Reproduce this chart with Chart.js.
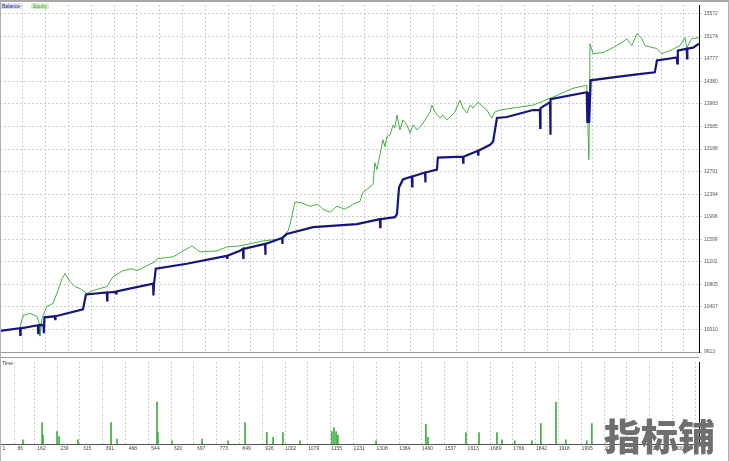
<!DOCTYPE html>
<html>
<head>
<meta charset="utf-8">
<script src="https://cdn.jsdelivr.net/npm/chart.js@4.4.1/dist/chart.umd.min.js"></script>
<style>
  body { margin: 0; background: #fff; font-family: "Liberation Sans", Arial, sans-serif; }
  #wrap { position: relative; width: 729px; height: 461px; overflow: hidden; }
  #mainChart { position: absolute; left: 0; top: 0; }
  #subChart { position: absolute; left: 0; top: 357px; }
  .tag { position: absolute; top: 3px; height: 6px; font-size: 5px; line-height: 6px; padding: 0 2px; }
  #frame { position: absolute; left: 0; top: 0; width: 727px; height: 459px; border: 1px solid #b0b0b0; border-top: 2px solid #a8a8a8; pointer-events: none; }
  #sep { position: absolute; left: 0; top: 357px; width: 699px; height: 0; border-top: 1px solid #9a9a9a; }
  #timeLbl { position: absolute; left: 2px; top: 360px; font-size: 5px; color: #333; }
  #mark { position: absolute; left: 604px; top: 408px; font-family: "Noto Sans CJK SC"; font-weight: 900; font-size: 37px; color: #6f6f6f; }
</style>
</head>
<body>
<div id="wrap">
  <canvas id="mainChart" width="729" height="357"></canvas>
  <canvas id="subChart" width="729" height="104"></canvas>
  <div class="tag" style="left:0; background:#dde0f2; color:#2a2a90;">Balance</div>
  <div class="tag" style="left:31px; background:#dcf0d6; color:#3a9a3a;">Equity</div>
  <div id="sep"></div>
  <div id="timeLbl">Time</div>
  <div id="mark">指标铺</div>
  <div id="frame"></div>
</div>
<script>
// tick labels
const xTicks = [1, 86, 162, 239, 315, 391, 468, 544, 620, 697, 773, 849, 926, 1002, 1079, 1155, 1231, 1308, 1384, 1460, 1537, 1613, 1689, 1766, 1842, 1918, 1995, 2071, 2147, 2224, 2300];
const yTicks = [9613, 10010, 10407, 10805, 11202, 11599, 11996, 12394, 12791, 13188, 13585, 13983, 14380, 14777, 15174, 15572];

// balance (trade number / value)
const balanceX = [9, 76, 77, 78, 136, 137, 138, 155, 156, 158, 193, 194, 195, 287, 297, 367, 368, 369, 398, 399, 400, 522, 523, 525, 531, 635, 769, 770, 771, 813, 823, 824, 825, 897, 898, 899, 954, 955, 956, 970, 1058, 1205, 1282, 1283, 1284, 1332, 1339, 1346, 1359, 1389, 1390, 1391, 1433, 1434, 1435, 1473, 1476, 1560, 1561, 1562, 1610, 1611, 1612, 1651, 1661, 1674, 1707, 1795, 1818, 1819, 1820, 1852, 1853, 1854, 1975, 1977, 1981, 1983, 1988, 2063, 2143, 2203, 2210, 2277, 2278, 2280, 2310, 2311, 2312, 2331, 2351];
const balanceY = [9985, 10032, 9915, 10030, 10085, 9945, 10085, 10085, 9945, 10224, 10242, 10190, 10242, 10364, 10626, 10661, 10521, 10661, 10670, 10626, 10679, 10818, 10609, 10818, 11080, 11168, 11308, 11273, 11308, 11395, 11430, 11273, 11430, 11517, 11325, 11517, 11622, 11517, 11622, 11692, 11814, 11867, 11954, 11814, 11954, 11989, 12041, 12513, 12653, 12705, 12530, 12705, 12775, 12600, 12775, 12827, 13037, 13055, 12950, 13055, 13159, 13090, 13159, 13264, 13317, 13736, 13753, 13876, 13876, 13561, 13911, 14015, 13439, 14068, 14190, 13649, 14190, 13649, 14400, 14452, 14505, 14540, 14749, 14802, 14697, 14924, 14959, 14784, 14959, 14976, 15046];

// equity
const equityX = [9, 76, 83, 86, 110, 133, 140, 143, 150, 166, 187, 203, 217, 227, 244, 260, 277, 300, 321, 367, 388, 421, 451, 468, 528, 535, 589, 635, 652, 679, 736, 769, 813, 890, 947, 974, 981, 997, 1014, 1048, 1074, 1091, 1115, 1138, 1165, 1192, 1215, 1225, 1238, 1259, 1265, 1272, 1292, 1299, 1305, 1316, 1326, 1332, 1339, 1349, 1359, 1372, 1383, 1393, 1406, 1416, 1429, 1439, 1450, 1456, 1466, 1483, 1493, 1506, 1517, 1533, 1550, 1560, 1573, 1584, 1594, 1610, 1624, 1640, 1657, 1667, 1684, 1728, 1795, 1862, 1929, 1975, 1982, 1986, 1996, 2029, 2063, 2093, 2109, 2126, 2143, 2160, 2170, 2210, 2227, 2254, 2287, 2304, 2310, 2327, 2351];
const equityY = [9985, 10032, 10207, 10259, 10294, 10242, 10120, 9893, 10207, 10417, 10469, 10696, 10906, 10993, 10853, 10766, 10731, 10644, 10696, 10766, 10941, 11046, 11080, 11046, 11203, 11255, 11290, 11430, 11482, 11377, 11395, 11465, 11482, 11570, 11605, 11744, 11867, 12251, 12251, 12181, 12216, 12129, 12076, 12181, 12129, 12216, 12268, 12426, 12478, 12565, 12950, 12827, 13352, 13229, 13404, 13439, 13614, 13561, 13788, 13526, 13701, 13614, 13474, 13614, 13526, 13579, 13666, 13753, 13841, 13963, 13841, 13736, 13788, 13701, 13753, 13841, 14050, 13911, 13823, 13963, 13911, 14015, 13946, 13876, 13736, 13841, 13876, 13911, 13963, 14103, 14260, 14312, 13002, 15046, 14871, 14889, 14976, 15064, 15134, 15011, 15221, 15134, 15011, 14959, 14871, 14924, 15011, 15151, 14976, 15134, 15151];

// lower pane
const volumeX = [86, 150, 153, 200, 207, 270, 381, 401, 535, 538, 585, 686, 773, 830, 903, 924, 957, 1014, 1121, 1128, 1135, 1141, 1269, 1436, 1443, 1570, 1614, 1674, 1691, 1734, 1791, 1821, 1872, 1905, 1975, 1992];
const volumeY = [0.5, 2.6, 1.1, 1.5, 0.9, 0.5, 2.6, 0.6, 5.1, 1.4, 0.4, 0.6, 0.4, 2.6, 1.4, 0.8, 1.4, 0.4, 1.5, 2.0, 1.5, 1.1, 0.4, 2.4, 0.8, 1.4, 1.4, 1.4, 0.5, 0.4, 0.4, 2.5, 5.1, 0.5, 0.4, 2.5];

const xMin = 9, xMax = 2351;
const gridColor = '#cdcdcd';
const tickFont = { family: 'Liberation Sans', size: 5 };

function toPoints(xs, ys) {
    return xs.map((x, i) => ({ x: x, y: ys[i] }));
}

// main pane
const mainCtx = document.getElementById('mainChart').getContext('2d');
const mainChart = new Chart(mainCtx, {
    type: 'line',
    data: {
        datasets: [{
            label: 'Balance',
            data: toPoints(balanceX, balanceY),
            borderColor: '#151580',
            borderWidth: 2.2,
            pointRadius: 0,
            tension: 0,
            order: 0
        }, {
            label: 'Equity',
            data: toPoints(equityX, equityY),
            borderColor: '#45b045',
            borderWidth: 1,
            pointRadius: 0,
            tension: 0,
            order: 1
        }]
    },
    options: {
        responsive: false,
        animation: false,
        layout: { padding: { left: 0, right: 0, top: 4, bottom: 3 } },
        plugins: { legend: { display: false }, tooltip: { enabled: false } },
        scales: {
            x: {
                type: 'linear',
                min: xMin,
                max: xMax,
                afterBuildTicks: s => { s.ticks = xTicks.map(v => ({ value: v })); },
                ticks: { display: false },
                grid: { color: gridColor, drawTicks: false },
                border: { display: true, color: '#9a9a9a', dash: [2, 2] },
                afterFit: s => { s.height = 0; }
            },
            y: {
                position: 'right',
                min: 9613,
                max: 15727,
                afterBuildTicks: s => { s.ticks = yTicks.map(v => ({ value: v })); },
                ticks: { font: tickFont, color: '#555', padding: 2, callback: v => String(v) },
                grid: { color: gridColor, tickLength: 3 },
                border: { display: true, color: '#000', dash: [2, 2] },
                afterFit: s => { s.width = 30; }
            }
        }
    }
});

// lower pane
const subCtx = document.getElementById('subChart').getContext('2d');
const subChart = new Chart(subCtx, {
    type: 'bar',
    data: {
        datasets: [{
            label: 'Time',
            data: toPoints(volumeX, volumeY),
            backgroundColor: '#3fae3f',
            barThickness: 1
        }]
    },
    options: {
        responsive: false,
        animation: false,
        layout: { padding: { left: 0, right: 0, top: 5, bottom: 3 } },
        plugins: { legend: { display: false }, tooltip: { enabled: false } },
        scales: {
            x: {
                type: 'linear',
                min: xMin,
                max: xMax,
                offset: false,
                afterBuildTicks: s => { s.ticks = xTicks.map(v => ({ value: Math.max(v, 27) })); },
                ticks: {
                    font: tickFont,
                    color: '#444',
                    align: 'end',
                    maxRotation: 0,
                    autoSkip: false,
                    padding: 2,
                    callback: (v, i) => String(xTicks[i])
                },
                grid: {
                    color: c => (c.index === 0 ? 'rgba(0,0,0,0)' : gridColor),
                    drawTicks: false
                },
                border: { display: true, color: '#555', dash: [2, 2] },
                afterFit: s => { s.height = 14; }
            },
            y: {
                position: 'right',
                min: 0,
                max: 10,
                ticks: { display: false },
                grid: { display: false },
                border: { display: true, color: '#000' },
                afterFit: s => { s.width = 30; }
            }
        }
    }
});
</script>
</body>
</html>
